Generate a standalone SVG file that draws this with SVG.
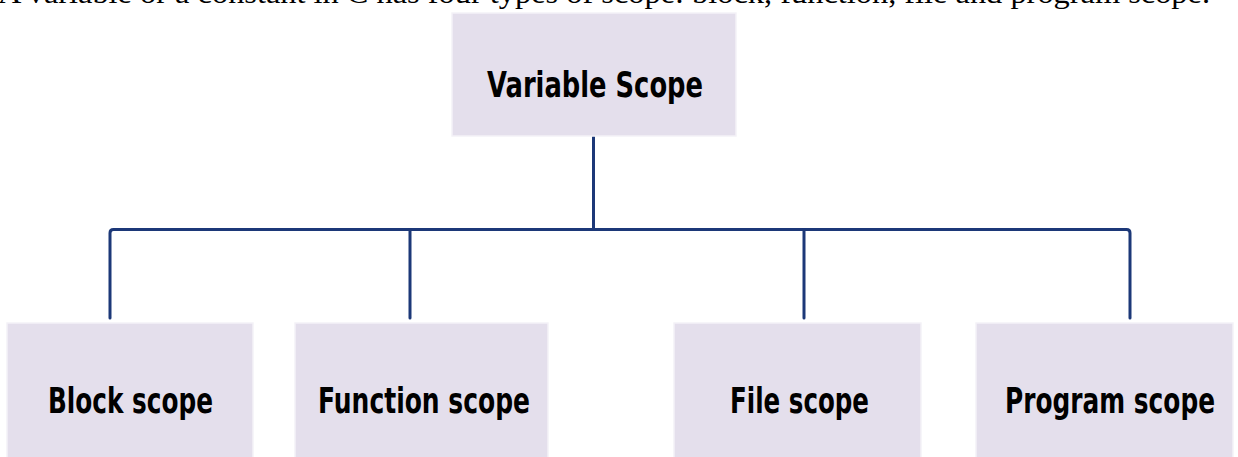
<svg xmlns="http://www.w3.org/2000/svg" width="1238" height="457" viewBox="0 0 1238 457">
<style>
.box{fill:#e4dfec;stroke:#f4f2f7;stroke-width:1.5}
.lbl{font-family:"DejaVu Sans","Liberation Sans",sans-serif;font-weight:bold;font-size:36px;fill:#000}
.con{fill:none;stroke:#1c3878;stroke-width:3;stroke-linecap:round;stroke-linejoin:round}
.cap{font-family:"Liberation Serif","Times New Roman",serif;font-size:29px;fill:#000}
</style>
<rect width="1238" height="457" fill="#ffffff"/>
<text class="cap" x="-2" y="3" textLength="1212" lengthAdjust="spacingAndGlyphs">A variable or a constant in C has four types of scope: block, function, file and program scope.</text>
<g id="connectors">
<path class="con" d="M593.5 137 V229.5"/>
<path class="con" d="M110 318 V233 Q110 229.5 113.5 229.5 H1126.5 Q1130 229.5 1130 233 V318"/>
<path class="con" d="M410 229.5 V318"/>
<path class="con" d="M804 229.5 V318"/>
</g>
<g id="node-variable-scope">
<rect class="box" x="452" y="13" width="284" height="123"/>
<text class="lbl" x="487" y="97" textLength="216" lengthAdjust="spacingAndGlyphs">Variable Scope</text>
</g>
<g id="node-block-scope">
<rect class="box" x="7" y="323" width="246" height="140"/>
<text class="lbl" x="48" y="413" textLength="165" lengthAdjust="spacingAndGlyphs">Block scope</text>
</g>
<g id="node-function-scope">
<rect class="box" x="295" y="323" width="253" height="140"/>
<text class="lbl" x="318" y="413" textLength="212" lengthAdjust="spacingAndGlyphs">Function scope</text>
</g>
<g id="node-file-scope">
<rect class="box" x="674" y="323" width="247" height="140"/>
<text class="lbl" x="730" y="413" textLength="139" lengthAdjust="spacingAndGlyphs">File scope</text>
</g>
<g id="node-program-scope">
<rect class="box" x="976" y="323" width="257" height="140"/>
<text class="lbl" x="1005" y="413" textLength="210" lengthAdjust="spacingAndGlyphs">Program scope</text>
</g>
</svg>
